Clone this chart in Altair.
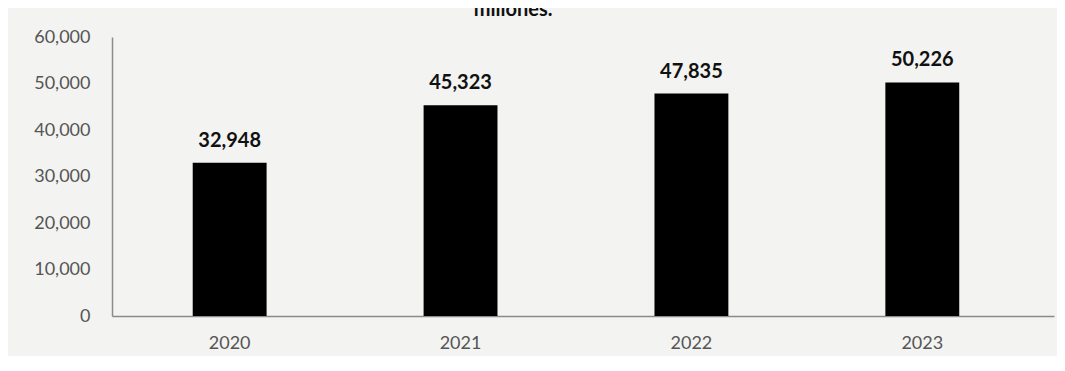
import altair as alt
import pandas as pd

years = ["2020", "2021", "2022", "2023"]
values = [32948, 45323, 47835, 50226]
y_ticks = [0, 10000, 20000, 30000, 40000, 50000, 60000]

df = pd.DataFrame({"year": years, "value": values})

FONT = "Lato"

base = alt.Chart(df)

x = alt.X(
    "year:N",
    sort=years,
    title=None,
    scale=alt.Scale(paddingInner=0.68, paddingOuter=0.38, align=0.46),
    axis=alt.Axis(labelAngle=0, ticks=False, domainColor="#8a8a8a", domainWidth=1.5,
                  labelFont=FONT, labelFontSize=18, labelColor="#555555",
                  labelPadding=18),
)
y = alt.Y(
    "value:Q",
    title=None,
    scale=alt.Scale(domain=[0, 60000], nice=False),
    axis=alt.Axis(values=y_ticks, format=",.0f", grid=False, ticks=False,
                  domainColor="#8a8a8a", domainWidth=1.5,
                  labelFont=FONT, labelFontSize=18, labelColor="#555555",
                  labelPadding=22),
)

bars = base.mark_bar(color="#000000").encode(x=x, y=y)
labels = base.mark_text(
    baseline="bottom", dy=-12, font=FONT, fontWeight="bold",
    fontSize=20, color="#111111"
).encode(
    x=x,
    y=y,
    text=alt.Text("value:Q", format=",.0f"),
)

chart = (
    alt.layer(bars, labels)
    .properties(
        width=942,
        height=279,
        padding={"left": 104, "top": 29, "right": 3, "bottom": 40},
        autosize=alt.AutoSizeParams(type="none"),
        background="#f3f3f1",
        title=alt.Title("millones.", fontSize=20, font=FONT, fontWeight="bold",
                        color="#111111", anchor="start", dx=440, dy=18, offset=6,
                        baseline="bottom"),
    )
    .configure_view(stroke=None)
)

chart.save("out.html", embed_options={"renderer": "svg", "actions": False})
